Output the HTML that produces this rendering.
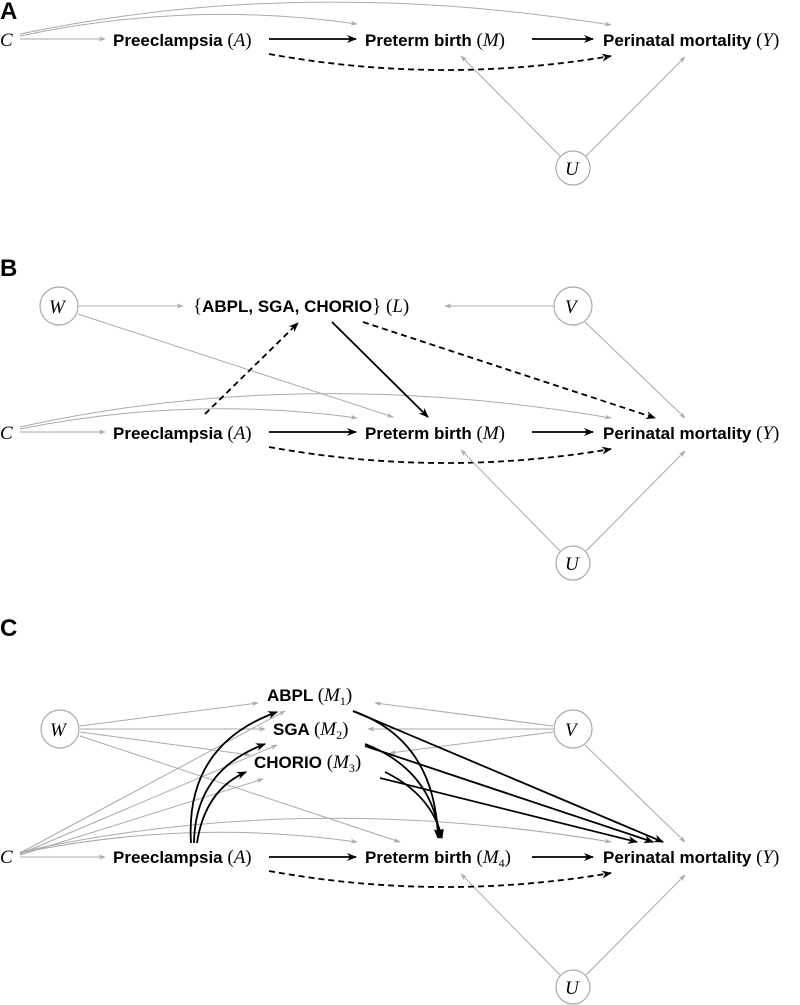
<!DOCTYPE html>
<html><head><meta charset="utf-8"><style>
html,body{margin:0;padding:0;background:#fff;}
svg{display:block;}
.t{font-family:"Liberation Sans",sans-serif;font-weight:bold;font-size:17px;fill:#000;}
.m{font-family:"Liberation Serif",serif;font-style:italic;font-weight:normal;font-size:19px;}
.p{font-family:"Liberation Serif",serif;font-style:normal;font-weight:normal;font-size:19px;}
.s{font-family:"Liberation Serif",serif;font-style:normal;font-weight:normal;font-size:12px;}
.lab{font-family:"Liberation Sans",sans-serif;font-weight:bold;font-size:24px;}
.g{stroke:#aaa;stroke-width:1;fill:none;marker-end:url(#ag);}
.b{stroke:#000;stroke-width:1.8;fill:none;marker-end:url(#ab);}
.d{stroke:#000;stroke-width:1.8;fill:none;stroke-dasharray:6,4;marker-end:url(#ab);}
.c{stroke:#aaa;stroke-width:1.2;fill:#fff;}
</style></head><body>
<svg width="800" height="1005" viewBox="0 0 800 1005" xmlns="http://www.w3.org/2000/svg">
<defs>
<marker id="ag" viewBox="0 0 10 10" refX="9" refY="5" markerWidth="7" markerHeight="7" orient="auto" markerUnits="userSpaceOnUse"><path d="M0,1.5 L10,5 L0,8.5 L3,5z" fill="#aaa"/></marker>
<marker id="ab" viewBox="0 0 10 10" refX="9" refY="5" markerWidth="10" markerHeight="10" orient="auto" markerUnits="userSpaceOnUse"><path d="M0,1 L10,5 L0,9 L3,5z" fill="#000"/></marker>
</defs>

<!-- Panel A -->
<text class="lab" x="0" y="19">A</text>
<g>
<text class="m" x="0" y="46">C</text>
<text class="t" x="113" y="46">Preeclampsia <tspan class="p">(</tspan><tspan class="m">A</tspan><tspan class="p">)</tspan></text>
<text class="t" x="365" y="46">Preterm birth <tspan class="p">(</tspan><tspan class="m">M</tspan><tspan class="p">)</tspan></text>
<text class="t" x="603" y="46">Perinatal mortality <tspan class="p">(</tspan><tspan class="m">Y</tspan><tspan class="p">)</tspan></text>
<path class="g" d="M20,39 L105,39"/>
<path class="g" d="M20,36 Q190,0 357,24"/>
<path class="g" d="M20,34 Q300,-25 611,25"/>
<path class="b" d="M269,39 L356,39"/>
<path class="b" d="M532,39 L593,39"/>
<path class="d" d="M269,54 Q440,85 611,56"/>
<circle class="c" cx="573" cy="168" r="17"/>
<text class="m" x="565" y="175">U</text>
<path class="g" d="M560,156 L461,56"/>
<path class="g" d="M586,156 L685,57"/>
</g>

<!-- Panel B -->
<text class="lab" x="0" y="276">B</text>
<g>
<circle class="c" cx="59" cy="306" r="19"/>
<text class="m" x="49" y="313">W</text>
<circle class="c" cx="573" cy="306" r="19"/>
<text class="m" x="565" y="313">V</text>
<text class="t" x="193" y="312"><tspan class="p">{</tspan>ABPL, SGA, CHORIO<tspan class="p">} (</tspan><tspan class="m">L</tspan><tspan class="p">)</tspan></text>
<text class="m" x="0" y="439">C</text>
<text class="t" x="113" y="439">Preeclampsia <tspan class="p">(</tspan><tspan class="m">A</tspan><tspan class="p">)</tspan></text>
<text class="t" x="365" y="439">Preterm birth <tspan class="p">(</tspan><tspan class="m">M</tspan><tspan class="p">)</tspan></text>
<text class="t" x="603" y="439">Perinatal mortality <tspan class="p">(</tspan><tspan class="m">Y</tspan><tspan class="p">)</tspan></text>
<path class="g" d="M79,306 L183,306"/>
<path class="g" d="M553,306 L445,306"/>
<path class="g" d="M78,314 L393,417"/>
<path class="g" d="M585,322 L685,418"/>
<path class="g" d="M20,432 L105,432"/>
<path class="g" d="M20,429 Q190,395 357,418"/>
<path class="g" d="M20,427 Q300,365 611,418"/>
<path class="b" d="M269,432 L356,432"/>
<path class="b" d="M532,432 L593,432"/>
<path class="d" d="M269,447 Q440,478 611,449"/>
<path class="d" d="M205,414 L298,323"/>
<path class="b" d="M332,322 L428,417"/>
<path class="d" d="M363,322 L655,418"/>
<circle class="c" cx="573" cy="563" r="17"/>
<text class="m" x="565" y="570">U</text>
<path class="g" d="M560,551 L461,450"/>
<path class="g" d="M586,551 L685,451"/>
</g>

<!-- Panel C -->
<text class="lab" x="0" y="636">C</text>
<g>
<circle class="c" cx="60" cy="729" r="19"/>
<text class="m" x="50" y="736">W</text>
<circle class="c" cx="573" cy="729" r="19"/>
<text class="m" x="565" y="736">V</text>
<text class="t" x="267" y="701">ABPL <tspan class="p">(</tspan><tspan class="m">M</tspan><tspan class="s" dy="4">1</tspan><tspan class="p" dy="-4">)</tspan></text>
<text class="t" x="273" y="735">SGA <tspan class="p">(</tspan><tspan class="m">M</tspan><tspan class="s" dy="4">2</tspan><tspan class="p" dy="-4">)</tspan></text>
<text class="t" x="254" y="768">CHORIO <tspan class="p">(</tspan><tspan class="m">M</tspan><tspan class="s" dy="4">3</tspan><tspan class="p" dy="-4">)</tspan></text>
<text class="m" x="0" y="863">C</text>
<text class="t" x="113" y="863">Preeclampsia <tspan class="p">(</tspan><tspan class="m">A</tspan><tspan class="p">)</tspan></text>
<text class="t" x="365" y="863">Preterm birth <tspan class="p">(</tspan><tspan class="m">M</tspan><tspan class="s" dy="4">4</tspan><tspan class="p" dy="-4">)</tspan></text>
<text class="t" x="603" y="863">Perinatal mortality <tspan class="p">(</tspan><tspan class="m">Y</tspan><tspan class="p">)</tspan></text>
<!-- gray -->
<path class="g" d="M80,726 L258,703"/>
<path class="g" d="M80,729 L265,729"/>
<path class="g" d="M80,732 L250,755"/>
<path class="g" d="M80,736 L400,842"/>
<path class="g" d="M553,726 L375,703"/>
<path class="g" d="M553,729 L368,729"/>
<path class="g" d="M553,732 L390,753"/>
<path class="g" d="M585,745 L685,842"/>
<path class="g" d="M20,853 L285,711"/>
<path class="g" d="M20,854 L277,745"/>
<path class="g" d="M20,855 L263,779"/>
<path class="g" d="M20,857 L105,857"/>
<path class="g" d="M20,853 Q190,818 357,842"/>
<path class="g" d="M20,852 Q300,790 611,842"/>
<path class="g" d="M560,975 L461,874"/>
<path class="g" d="M586,975 L685,875"/>
<circle class="c" cx="573" cy="987" r="17"/>
<text class="m" x="565" y="994">U</text>
<!-- black -->
<path class="b" d="M269,857 L356,857"/>
<path class="b" d="M532,857 L593,857"/>
<path class="d" d="M269,871 Q440,902 611,873"/>
<path class="b" d="M191,843 Q185,745 277,712"/>
<path class="b" d="M194,843 Q195,770 265,744"/>
<path class="b" d="M197,843 Q205,790 246,772"/>
<path class="b" d="M353,711 Q435,740 438,838"/>
<path class="b" d="M365,744 Q432,770 440,838"/>
<path class="b" d="M385,772 Q432,795 442,838"/>
<path class="b" d="M353,711 L663,842"/>
<path class="b" d="M365,746 L653,842"/>
<path class="b" d="M380,778 L637,842"/>
</g>
</svg>
</body></html>
